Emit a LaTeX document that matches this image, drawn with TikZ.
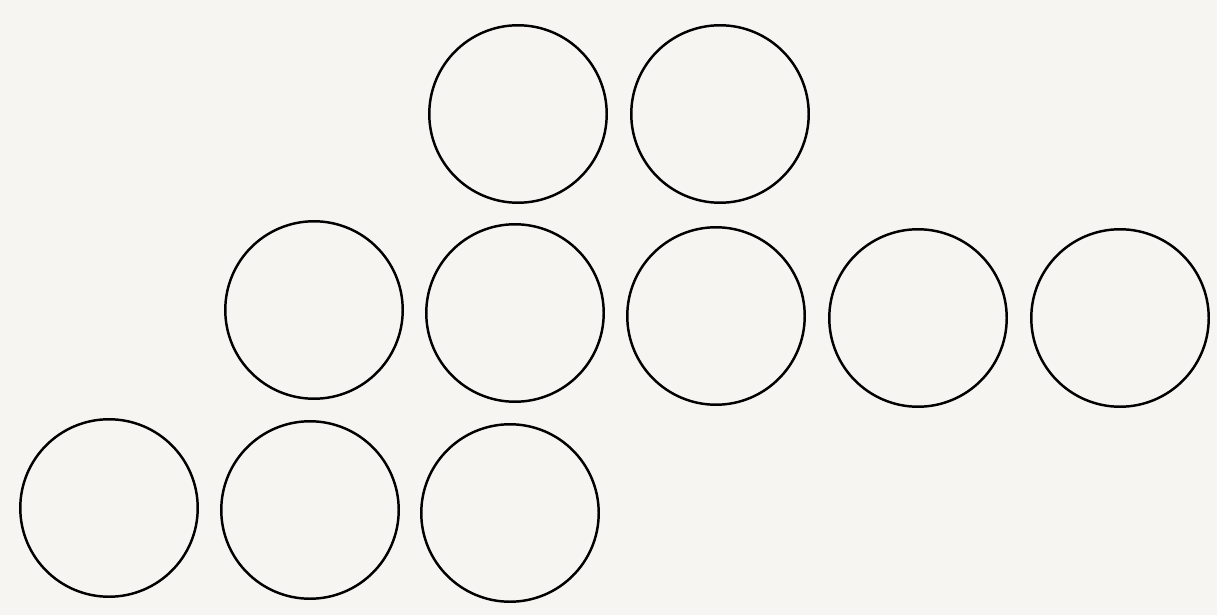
\documentclass[tikz,border=0pt]{standalone}
\usetikzlibrary{positioning}
\definecolor{paper}{RGB}{246,245,242}

\begin{document}
\begin{tikzpicture}[x=0.02cm, y=-0.02cm,
        ball/.style={circle, draw, line width=1.4pt, minimum size=3.55cm, inner sep=0pt}
      ]
      \fill[paper] (0,0) rectangle (1217,615);
      \useasboundingbox (0,0) rectangle (1217,615);
      % top row
      \node[ball] (t1) at (518,114) {};
      \node[ball] (t2) at (720,114) {};
      % middle row
      \node[ball] (m1) at (314,310) {};
      \node[ball] (m2) at (515,313) {};
      \node[ball] (m3) at (716,316) {};
      \node[ball] (m4) at (918,318) {};
      \node[ball] (m5) at (1120,318) {};
      % bottom row
      \node[ball] (b1) at (109,508) {};
      \node[ball] (b2) at (310,510) {};
      \node[ball] (b3) at (510,513) {};
    \end{tikzpicture}
\end{document}
